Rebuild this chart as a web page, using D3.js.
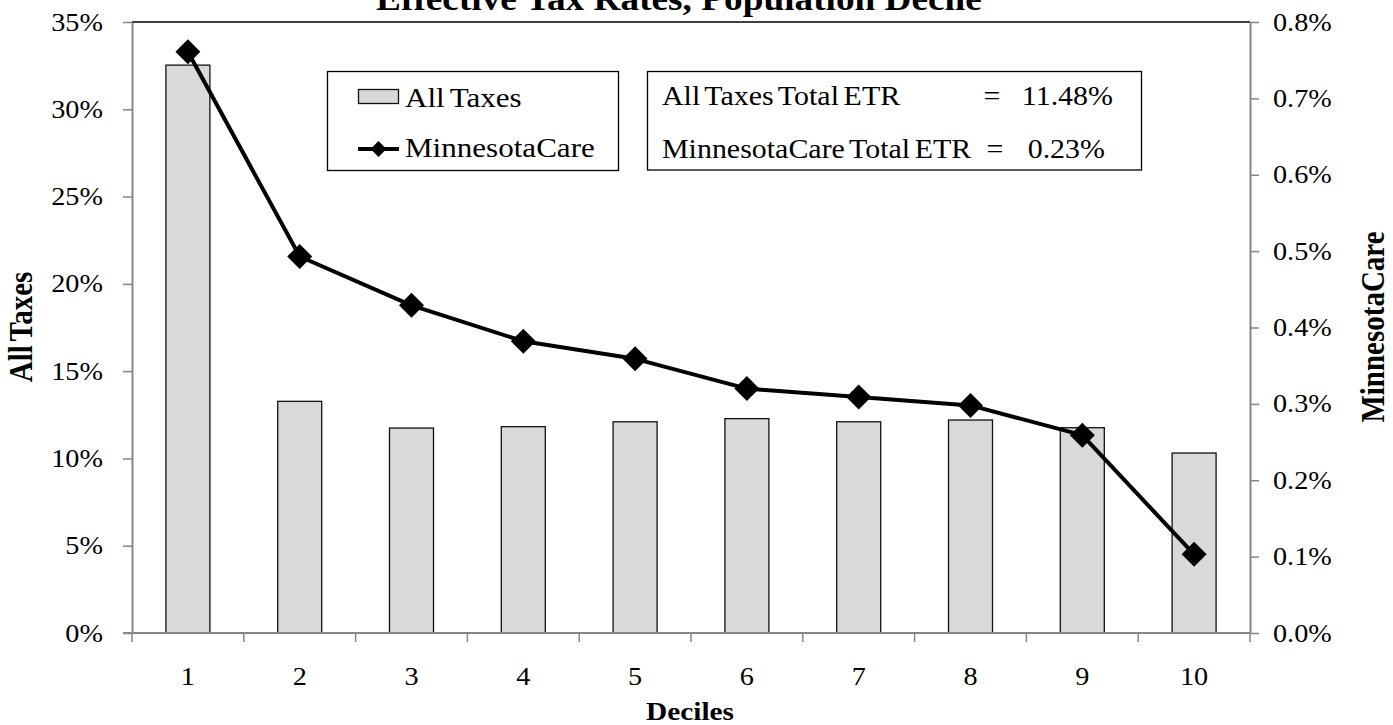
<!DOCTYPE html>
<html>
<head>
<meta charset="utf-8">
<script src="https://cdn.jsdelivr.net/npm/d3@7"></script>
<style>
  html, body { margin: 0; padding: 0; background: #fff; }
  svg { display: block; font-family: "Liberation Serif", "Times New Roman", serif; }
</style>
</head>
<body>
<svg id="chart" width="1393" height="725"></svg>
<script>
const categories = ["1","2","3","4","5","6","7","8","9","10"];
const allTaxes = [32.53, 13.27, 11.74, 11.82, 12.10, 12.28, 12.10, 12.20, 11.76, 10.31];
const minnesotaCare = [0.761, 0.493, 0.429, 0.382, 0.359, 0.320, 0.309, 0.298, 0.259, 0.103];
const leftTicks = [0, 5, 10, 15, 20, 25, 30, 35];
const rightTicks = [0, 0.1, 0.2, 0.3, 0.4, 0.5, 0.6, 0.7, 0.8];
const titleText = "Effective Tax Rates, Population Decile";
const legendLabels = ["All Taxes", "MinnesotaCare"];
const totalLabels = ["All Taxes Total ETR", "MinnesotaCare Total ETR"];
const totalValues = ["11.48%", "0.23%"];

const svg = d3.select("#chart");
const pL = 132, pR = 1250, pT = 22, pB = 633;
const axisColor = "#868686";
const SX = 1.13; // horizontal stretch of the original rendering

const xb = d3.scaleBand().domain(categories).range([pL, pR]);
const yL = d3.scaleLinear().domain([0, 35]).range([pB, pT]);
const yR = d3.scaleLinear().domain([0, 0.8]).range([pB, pT]);
const cx = c => xb(c) + xb.bandwidth() / 2;

function stext(g, x, y, txt, size, anchor, bold, rot) {
  const t = g.append("text")
    .attr("transform", rot
      ? `translate(${x},${y}) rotate(-90) scale(1,${SX})`
      : `translate(${x},${y}) scale(${SX},1)`)
    .attr("text-anchor", anchor || "start")
    .attr("font-size", size)
    .attr("fill", "#000")
    .text(txt);
  if (bold) t.attr("font-weight", "bold");
  return t;
}

// plot top border
svg.append("line").attr("x1", pL).attr("x2", pR).attr("y1", pT).attr("y2", pT)
  .attr("stroke", "#000").attr("stroke-width", 1.5);

// bars
svg.append("g").selectAll("rect").data(allTaxes).join("rect")
  .attr("x", (d, i) => cx(categories[i]) - 22)
  .attr("width", 44)
  .attr("y", d => yL(d))
  .attr("height", d => pB - yL(d))
  .attr("fill", "#d9d9d9").attr("stroke", "#111").attr("stroke-width", 1.3);

// left axis
const fsTick = 25;
const gL = svg.append("g").attr("transform", `translate(${pL},0)`)
  .call(d3.axisLeft(yL).tickValues(leftTicks).tickFormat("").tickSize(9).tickSizeOuter(0));
gL.select(".domain").attr("stroke", axisColor).attr("stroke-width", 2);
gL.selectAll(".tick line").attr("stroke", axisColor).attr("stroke-width", 1.5);
const gLt = svg.append("g");
leftTicks.forEach(v => stext(gLt, 103, yL(v) + 8.5, v + "%", fsTick, "end"));

// right axis
const gR = svg.append("g").attr("transform", `translate(${pR},0)`)
  .call(d3.axisRight(yR).tickValues(rightTicks).tickFormat("").tickSize(9).tickSizeOuter(0));
gR.select(".domain").attr("stroke", axisColor).attr("stroke-width", 2);
gR.selectAll(".tick line").attr("stroke", axisColor).attr("stroke-width", 1.5);
const gRt = svg.append("g");
rightTicks.forEach(v => stext(gRt, 1273, yR(v) + 8.5, v.toFixed(1) + "%", fsTick, "start"));

// bottom axis
svg.append("line").attr("x1", pL - 9).attr("x2", pR).attr("y1", pB).attr("y2", pB)
  .attr("stroke", axisColor).attr("stroke-width", 2);
svg.append("g").selectAll("line").data(d3.range(categories.length + 1)).join("line")
  .attr("x1", i => pL + i * xb.step()).attr("x2", i => pL + i * xb.step())
  .attr("y1", pB).attr("y2", pB + 9)
  .attr("stroke", axisColor).attr("stroke-width", 1.5);
const gB = svg.append("g");
categories.forEach(c => stext(gB, cx(c), 685, c, fsTick, "middle"));

// line series
const line = d3.line().x((d, i) => cx(categories[i])).y(d => yR(d));
svg.append("path").datum(minnesotaCare).attr("d", line)
  .attr("fill", "none").attr("stroke", "#000").attr("stroke-width", 4).attr("stroke-linejoin", "round");
svg.append("g").selectAll("path").data(minnesotaCare).join("path")
  .attr("transform", (d, i) => `translate(${cx(categories[i])},${yR(d)})`)
  .attr("d", "M0,-12.5L12.5,0L0,12.5L-12.5,0Z").attr("fill", "#000");

// title
stext(svg, 679, 10, titleText, 33, "middle", true);

// axis titles
stext(svg, 32, 327, "All Taxes", 29, "middle", true, true).attr("word-spacing", -3);
stext(svg, 1384, 327, "MinnesotaCare", 29, "middle", true, true);
stext(svg, 690, 720, "Deciles", 26, "middle", true);

// legend box
const lg = svg.append("g");
lg.append("rect").attr("x", 327.5).attr("y", 71.5).attr("width", 291).attr("height", 99)
  .attr("fill", "#fff").attr("stroke", "#000").attr("stroke-width", 1.3);
lg.append("rect").attr("x", 358.5).attr("y", 89.5).attr("width", 40).attr("height", 14)
  .attr("fill", "#d9d9d9").attr("stroke", "#111").attr("stroke-width", 1.3);
lg.append("line").attr("x1", 358).attr("x2", 399).attr("y1", 149).attr("y2", 149)
  .attr("stroke", "#000").attr("stroke-width", 4);
lg.append("path").attr("transform", "translate(378.5,149)").attr("d", "M0,-8L8,0L0,8L-8,0Z").attr("fill", "#000");
legendLabels.forEach((d, i) => stext(lg, 405, i === 0 ? 107 : 157, d, 27.5, "start").attr("word-spacing", -2));

// totals box
const tg = svg.append("g");
tg.append("rect").attr("x", 647.5).attr("y", 71.5).attr("width", 494).attr("height", 98.5)
  .attr("fill", "#fff").attr("stroke", "#000").attr("stroke-width", 1.3);
totalLabels.forEach((d, i) => {
  const yy = i === 0 ? 104.5 : 158;
  stext(tg, 662, yy, d, 26.5, "start").attr("word-spacing", -2.5);
  stext(tg, i === 0 ? 992 : 995, yy, "=", 26.5, "middle");
  stext(tg, i === 0 ? 1113 : 1105, yy, totalValues[i], 26.5, "end");
});
</script>
</body>
</html>
